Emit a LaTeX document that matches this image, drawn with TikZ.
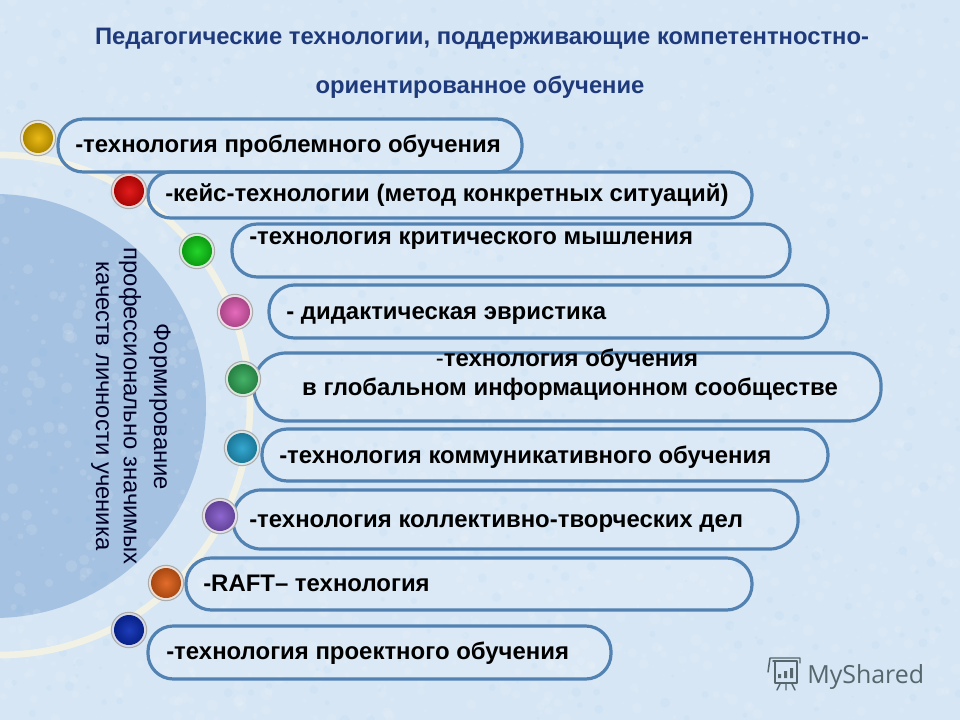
\documentclass[tikz,border=0pt]{standalone}
\usepackage{fontspec}
\setmainfont{Liberation Sans}
\newfontfamily\logofont{Open Sans}
\definecolor{bgbase}{HTML}{D6E6F4}
\definecolor{discblue}{HTML}{A6C2E2}
\definecolor{arccream}{HTML}{F2F1E6}
\definecolor{pilledge}{HTML}{5282B2}
\definecolor{titlenavy}{HTML}{1F3A7A}
\definecolor{logogray}{HTML}{56666C}
\definecolor{gemyellow}{HTML}{E8B400}
\definecolor{gemred}{HTML}{E00808}
\definecolor{gemgreen}{HTML}{10D018}
\definecolor{gempink}{HTML}{E45EB6}
\definecolor{gememerald}{HTML}{34AC5A}
\definecolor{gemteal}{HTML}{24A0CC}
\definecolor{gemviolet}{HTML}{845ACC}
\definecolor{gemorange}{HTML}{E06018}
\definecolor{gemnavy}{HTML}{0A2CB4}
\tikzset{
  x=0.75pt,y=-0.75pt,
  pillbox/.style={draw=pilledge,line width=2.4pt,fill=white,fill opacity=0.12,inner sep=0pt,outer sep=0pt},
  itemtext/.style={anchor=base west,inner sep=0pt,font=\fontsize{17.95}{21}\selectfont\bfseries,text=black},
  centertext/.style={anchor=base,inner sep=0pt,font=\fontsize{17.95}{21}\selectfont\bfseries,text=black},
  titletext/.style={anchor=base,inner sep=0pt,font=\fontsize{17.85}{21}\selectfont\bfseries,text=titlenavy},
  sidetext/.style={anchor=center,inner sep=0pt,rotate=-90,font=\fontsize{17.9}{21}\selectfont,text=black!85!blue},
  ringbox/.style={circle,inner sep=0pt,minimum size=26.5pt,fill=#1!12!white!88!gray,draw=gray!65,line width=0.8pt},
  gem/.style={circle,inner sep=0pt,minimum size=22.5pt,shade,inner color=#1!92!white,outer color=#1!75!black},
  logoline/.style={draw=logogray,line width=1.1pt,line cap=round,line join=round}
}
\newcommand{\pillat}[6]{%
  \pgfmathsetmacro\pw{(#4-#2)*0.75}\pgfmathsetmacro\ph{(#5-#3)*0.75}%
  \pgfmathsetmacro\px{(#2+#4)/2}\pgfmathsetmacro\py{(#3+#5)/2}%
  \node[pillbox,rectangle,rounded corners=#6pt,minimum width=\pw pt,minimum height=\ph pt] (#1) at (\px,\py) {};}
\newcommand{\gemat}[4]{%
  \node[ringbox=#4] (r#1) at (#2,#3) {};
  \node[gem=#4] (g#1) at (#2,#3) {};}
\begin{document}
\begin{tikzpicture}
\useasboundingbox (0,0) rectangle (960,720);
\begin{scope}
\clip (0,0) rectangle (960,720);
\fill[bgbase] (0,0) rectangle (960,720);
\fill[discblue] (-6,406) circle (212);
\pgfmathsetseed{4217}
\foreach \i in {1,...,1800}{
  \pgfmathsetmacro\xa{960*rnd}\pgfmathsetmacro\ya{720*rnd}\pgfmathsetmacro\ra{1+5*rnd}
  \fill[white,opacity=0.1] (\xa,\ya) circle (\ra);
}
\foreach \i in {1,...,500}{
  \pgfmathsetmacro\xa{960*rnd}\pgfmathsetmacro\ya{720*rnd}\pgfmathsetmacro\ra{1+4*rnd}
  \fill[blue!35!cyan,opacity=0.03] (\xa,\ya) circle (\ra);
}
\draw[arccream,line width=5pt] (0,405) circle (250);
\end{scope}

\pillat{p1}{58}{119}{522}{172}{19}
\pillat{p2}{148}{172}{752}{218}{17}
\pillat{p3}{232}{224}{790}{277}{19}
\pillat{p4}{269}{285}{828}{338}{19}
\pillat{p5}{254}{353}{881}{421}{24}
\pillat{p6}{262}{429}{828}{481}{19}
\pillat{p7}{233}{490}{798}{549}{21}
\pillat{p8}{186}{558}{752}{610}{19}
\pillat{p9}{148}{626}{611}{679}{19}

\gemat{1}{38}{138}{gemyellow}
\gemat{2}{129}{191}{gemred}
\gemat{3}{197}{251}{gemgreen}
\gemat{4}{235}{312}{gempink}
\gemat{5}{243}{379}{gememerald}
\gemat{6}{242}{448}{gemteal}
\gemat{7}{220}{516}{gemviolet}
\gemat{8}{166}{583}{gemorange}
\gemat{9}{129}{630}{gemnavy}

\node[titletext] (title1) at (482,45) {Педагогические технологии, поддерживающие компетентностно-};
\node[titletext] (title2) at (480,94) {ориентированное обучение};

\node[itemtext] (t1) at (75,153) {-технология проблемного обучения};
\node[itemtext] (t2) at (165,202) {-кейс-технологии (метод конкретных ситуаций)};
\node[itemtext] (t3) at (249,245) {-технология критического мышления};
\node[itemtext] (t4) at (286,320) {- дидактическая эвристика};
\node[centertext] (t5a) at (567,366) {{\mdseries -}технология обучения};
\node[centertext] (t5b) at (570,395) {в глобальном информационном сообществе};
\node[itemtext] (t6) at (279,463) {-технология коммуникативного обучения};
\node[itemtext] (t7) at (249,527) {-технология коллективно-творческих дел};
\node[itemtext] (t8) at (203,591) {-RAFT– технология};
\node[itemtext] (t9) at (166,659) {-технология проектного обучения};

\node[sidetext] (s1) at (160,407) {Формирование};
\node[sidetext] (s2) at (130,406) {профессионально значимых};
\node[sidetext] (s3) at (100,406) {качеств личности ученика};

\node[anchor=base west,inner sep=0pt,text=logogray,font=\logofont\fontsize{18.7}{22}\selectfont] (logo) at (807,683) {MyShared};
\draw[logoline] (773,661) -- (797,661) (775,661) -- (775,683) -- (797,683) -- (797,661);
\draw[logoline] (770,658) -- (800,658) -- (800,663) (770,658) -- (768,672) (780,684) -- (777,690) (786,684) -- (786,690) (792,684) -- (795,690);
\fill[logogray] (778,674) rectangle (781,678) (784,671) rectangle (787,678) (790,668) rectangle (793,678);
\end{tikzpicture}
\end{document}
